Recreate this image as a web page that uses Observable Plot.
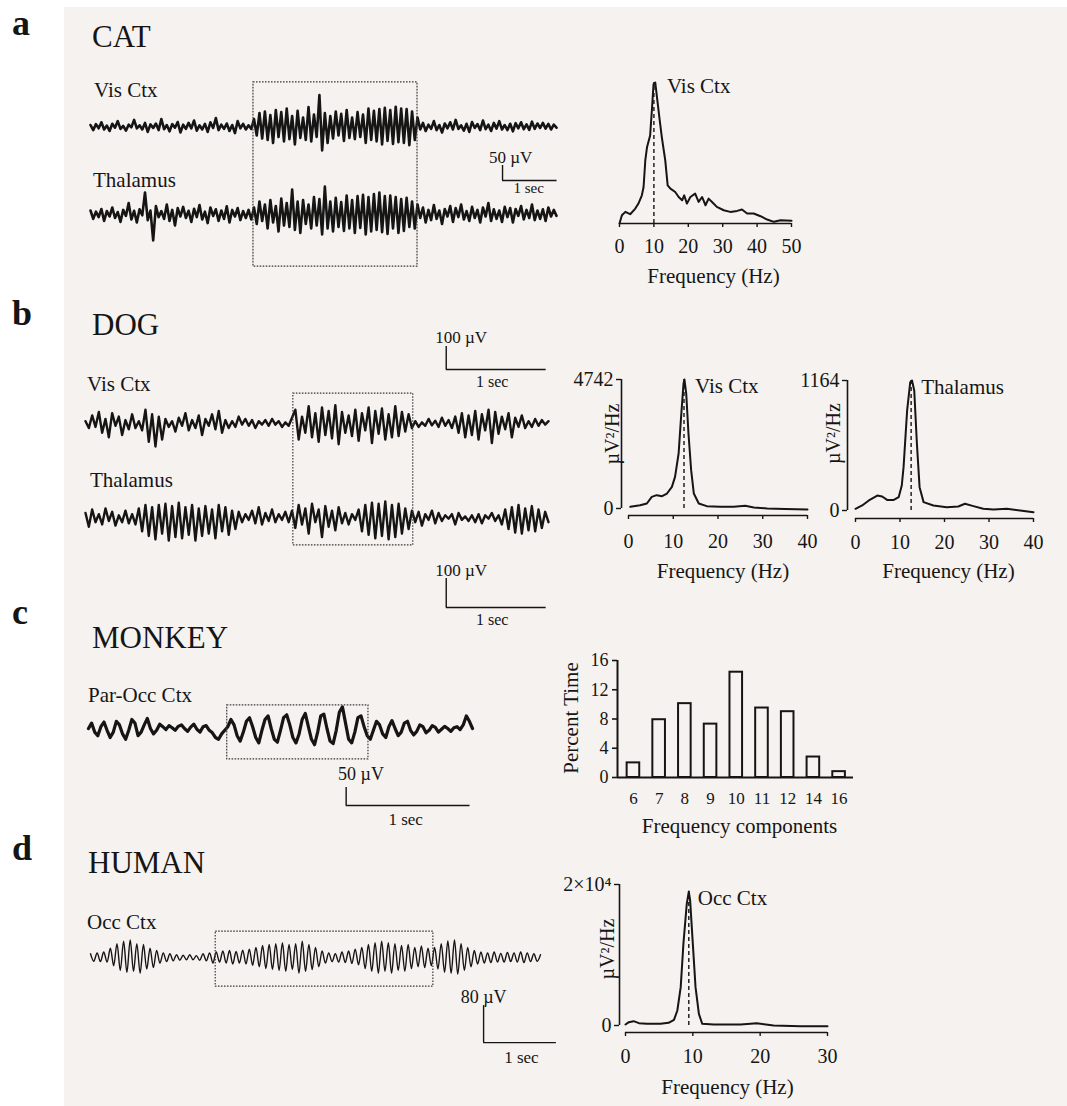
<!DOCTYPE html>
<html><head><meta charset="utf-8">
<script src="https://cdn.jsdelivr.net/npm/d3@7"></script>
<script src="https://cdn.jsdelivr.net/npm/@observablehq/plot@0.6"></script>
<style>
html,body{margin:0;padding:0;background:#fff;}
#page{position:relative;width:1067px;height:1106px;overflow:hidden;background:#fff;font-family:'Liberation Serif','Times New Roman',Times,serif;color:#151515;}
#paper{position:absolute;left:64px;top:7px;right:0;bottom:0;background:#f6f2ef;}
.lbl{position:absolute;white-space:nowrap;line-height:1;}
</style></head><body><div id="page"><div id="paper"></div></div>
<script>
// ---------------- DATA ----------------
// EEG traces (µV, positive up)
const catVis = [
  5,-12,8,-6,14,-10,3,-15,9,-4, 18,-8,2,-14,6,-3,22,-6,4,-10, 12,-18,7,-5,10,-12,25,-9,5,-16, 8,-4,15,-20,6,-8,12,-6,20,-14, 4,-10,9,-18,14,-5,28,-12,6,-8, 10,-15,5,-22,18,-6,9,-10,4,-8,
  25,-30,45,-40,50,-45,38,-55,55,-35, 48,-50,60,-42,35,-60,52,-38,30,-45, 65,-50,40,-35,105,-80,45,-55,35,-40, 50,-30,42,-48,55,-38,30,-42,48,-35, 40,-55,60,-45,52,-50,58,-60,62,-48, 55,-58,66,-52,60,-55,58,-62,50,-45, 30,
  -10,12,-15,6,-8,18,-12,5,-20,10, -6,14,-10,22,-8,4,-14,9,-18,15, -5,8,-12,20,-9,6,-15,12,-7,18, -10,5,-12,9,-16,11,-6,14,-9,7, -11,16,-8,10,-5,12,-7,9,-10,6, -4
];
const catThal = [
  10,-18,6,-12,15,-25,8,-10,20,-15, 5,-28,12,-8,35,-20,9,-30,14,-6, 70,-22,10,-90,25,-12,8,-18,30,-25, 12,-40,18,-10,22,-15,9,-28,16,-12, 28,-20,6,-32,20,-8,14,-25,10,-18, 24,-30,12,-10,18,-22,8,-15,12,-20,
  20,-35,40,-25,30,-50,45,-30,25,-60, 50,-40,35,-45,80,-55,40,-65,45,-35, 30,-50,55,-40,48,-70,90,-50,40,-60, 52,-45,38,-58,60,-50,45,-65,58,-48, 62,-70,55,-60,65,-55,70,-62,58,-68, 60,-50,55,-65,48,-58,52,-45,40,-50, 30,
  -15,20,-30,12,-22,28,-18,10,-35,15, -10,25,-28,18,-12,30,-20,8,-25,22, -15,12,-30,20,-10,35,-25,14,-18,10, -28,22,-12,18,-30,15,-8,25,-20,12, -15,30,-22,10,-18,14,-25,20,-10,12, -8
];
const dogVis = [
  10,-20,35,-15,50,-40,20,-60,45,-10, 30,-50,15,-25,40,-20,10,-30,60,-80, 40,-100,30,-70,20,-15,10,-35,25,-10, 45,-30,15,-20,35,-50,20,-10,40,-25, 55,-40,15,-20,10,-15,30,-5,20,-10, 15,-20,10,-5,15,-10,20,-5,10,-15, 5,-10,25,
  60,-70,30,-40,75,-60,45,-80,70,-50, 55,-65,80,-90,50,-40,35,-55,60,-75, 45,-30,70,-85,55,-45,65,-70,40,-60, 75,-55,50,-35,40,-20,
  10,-15,5,-10,20,-8,12,-15,25,-10, 15,-20,30,-40,45,-60,35,-50,55,-70, 40,-30,60,-85,50,-45,30,-25,45,-60, 25,-15,35,-20,10,-15,20,-10,15,-5, 10
];
const dogThal = [
  20,-40,35,-20,15,-30,40,-15,25,-35, 10,-20,30,-25,15,-30,40,-60,55,-80, 45,-95,55,-70,60,-100,50,-85,65,-90, 45,-75,55,-100,40,-80,50,-70,35,-90, 55,-60,45,-75,30,-50,25,-20,15,-10, 30,-25,45,-30,20,-15,35,-20,15,-10, 25,-20,30,
  -45,55,-30,40,-70,60,-20,35,-85,50, -40,30,-55,45,-25,20,-30,15,-10,35, -60,55,-75,65,-90,60,-80,70,-95,55, -85,60,-70,40,-50,30,
  -20,25,-35,15,-10,30,-25,20,-15,10, -5,15,-30,20,-10,5,-15,10,-20,15, -25,10,-5,20,-15,10,-30,35,-50,45, -65,55,-70,40,-55,50,-60,35,-45,25, -20
];
const monkeyParOcc = [
  0,15,-10,-20,5,18,-5,-25,-10,20, 10,-15,-30,-5,25,15,-20,-10,10,28, 0,-15,-5,12,5,-3,8,2,-5,6, 10,0,-8,4,12,-2,-10,5,8,-5, -12,-25,-30,-15,-5,
  5,25,10,-20,-35,-10,20,30,5,-25, -40,-5,25,35,0,-30,-38,-5,30,38, 10,-25,-40,-15,25,42,5,-30,-45,-10, 35,40,0,-35,-42,-5,45,60,15,-30, -40,-10,30,35,5,-20,
  -30,-5,20,10,-15,-25,5,22,0,-20, -10,15,20,-5,-18,-8,10,5,-12,-5, 8,3,-10,-2,6,0,-8,2,5,-3, 10,35,20,0
];
const humanOcc = [
  8,-8,10,-9,12,-10,20,-18,30,-28, 35,-32,38,-30,30,-34,28,-25,20,-22, 15,-12,10,-9,8,-7,6,-6,5,-5, 6,-5,4,-6,8,-7,10,-12,
  12,-10,14,-12,15,-14,13,-12,16,-14, 18,-17,22,-20,26,-24,28,-26,30,-28, 32,-30,28,-26,30,-34,35,-30,28,-26, 22,-20,14,-12,10,-9,8,-10,12,-11, 14,-13,18,-16,22,-24,28,-30,32,-34, 35,-30,32,-34,30,-28,26,-30,28,-24, 22,-20,25,-22,20,-18,
  22,-25,30,-32,36,-34,38,-36,30,-28, 22,-20,15,-14,12,-12,10,-11,12,-10, 9,-10,11,-9,10,-10,12,-11,10,-9, 8,-8,6
];
// sampling rates (samples per second) of the traces above
const catRate = 20, dogRate = 30, monkeyRate = 40, humanRate = 22;

// analysed epochs (dotted boxes) in seconds / µV
const catBox = {t1: 2.99, t2: 6.0, v1: 147, v2: -467};
const dogBox = {t1: 2.08, t2: 3.28, v1: 130, v2: -530};
const monkeyBox = {t1: 1.12, t2: 2.26, v1: 64, v2: -86};
const humanBox = {t1: 1.72, t2: 4.71, v1: 56, v2: -63};

// calibration bars
const catBars = [{t: 7.56, v: -180, dt: 1, dv: 50, vText: "50 µV", tText: "1 sec", vAt: [7.71, -120], tAt: [8.04, -223]}];
const dogBars = [
  {t: 3.61, v: 235, dt: 1, dv: 100, vText: "100 µV", tText: "1 sec", vAt: [3.76, 348], tAt: [4.07, 157]},
  {t: 3.61, v: -800, dt: 1, dv: 126, vText: "100 µV", tText: "1 sec", vAt: [3.76, -661], tAt: [4.07, -874]}
];
const monkeyBars = [{t: 2.08, v: -214, dt: 1, dv: 50, vText: "50 µV", tText: "1 sec", vAt: [2.2, -144], tAt: [2.56, -267]}];
const humanBars = [{t: 5.4, v: -184, dt: 1, dv: 80, vText: "80 µV", tText: "1 sec", vAt: [5.4, -99], tAt: [5.92, -229]}];

// power spectra
const catSpecFreq = [0,0.7,1.7,3.1,4.6,5.5,6.5,7.0,7.5,8.0, 8.9,9.4,9.9,10.4,10.9,11.7,12.3,13.3,14.0,14.8, 16.2,17.2,18.2,18.8,19.6,20.6,22.0,23.0,24.0,25.0, 25.9,26.9,28.3,30.3,32.2,34.2,35.6,37.1,39.0,41.0, 42.9,44.9,46.8,50];
const catSpecPow  = [0,25,35,28,45,60,85,110,190,230, 265,340,420,425,380,310,260,190,115,105, 95,80,70,85,60,80,90,65,80,55, 75,65,50,40,35,38,42,30,30,22, 12,5,10,8];
const catPeak = {f: 10, v: 425};

const dogVisFreq = [0.4,2.6,4.1,5.2,6.3,7.5,8.6,9.7,10.4,11.2, 11.7,12.3,12.5,12.9,13.4,14.0,14.6,15.7,17.5,20.5, 23.5,26.1,28,31,35,40];
const dogVisPow  = [61,122,184,429,490,453,551,796,1164,2022, 3247,4600,4742,4227,2757,1409,551,184,86,61, 61,98,37,0,-20,-40];
const dogVisPeak = {f: 12.4, v: 4742};

const dogThalFreq = [0,1.5,3,4.9,6,7.1,8.6,9.7,10.4,10.8, 11.6,12.3,12.7,13.2,13.8,14.4,15.3,17.5,20.5,23.1, 24.6,26.5,28.7,31,34,37,40];
const dogThalPow  = [15,45,90,134,125,95,95,119,224,388, 895,1149,1164,1075,597,209,75,45,30,36, 60,39,15,9,15,0,-15];
const dogThalPeak = {f: 12.5, v: 1164};

const humanSpecFreq = [0,0.5,1.2,2,3.2,5.2,6.4,7.2,7.7,8.2, 8.6,9.1,9.4,9.6,10,10.4,10.9,11.4,13.1,17.1, 19.5,22,26,30];
const humanSpecPow  = [140,470,615,330,236,236,380,800,2130,5440, 11580,17260,19000,17730,11580,5440,1650,236,140,140, 330,0,-95,-95];
const humanPeak = {f: 9.4, v: 19000};

// monkey frequency histogram
const monkeyFreqCats = ["6","7","8","9","10","11","12","14","16"];
const monkeyPercent  = [2.0, 7.9, 10.1, 7.3, 14.4, 9.5, 9.0, 2.8, 0.8];

// ---------------- DRAWING ----------------
const FONT = "'Liberation Serif','Times New Roman',Times,serif";
const INK = "#151515";
const page = document.getElementById("page");
const W = 1067, H = 1106;

function addLabel(text, x, baseline, size, weight) {
  const d = document.createElement("div");
  d.className = "lbl";
  d.textContent = text;
  d.style.left = x + "px";
  d.style.top = (baseline - 0.8375 * size) + "px";
  d.style.fontSize = size + "px";
  if (weight) d.style.fontWeight = weight;
  page.appendChild(d);
}

function addPlot(options, fontSize) {
  const svg = Plot.plot({
    width: W, height: H,
    marginTop: 0, marginRight: 0, marginBottom: 0, marginLeft: 0,
    ...options,
    style: {background: "none", fontFamily: FONT, fontSize: fontSize + "px", color: INK, overflow: "visible", position: "absolute", left: "0px", top: "0px"}
  });
  svg.style.position = "absolute";
  svg.style.left = "0px";
  svg.style.top = "0px";
  page.appendChild(svg);
}

function tracePanel({traces, rate, x0, x1, center, gain, box, bars, strokeWidth, curve, vSize, tSize}) {
  const n = traces[0].values.length;
  const dur = (n - 1) / rate;
  const marks = traces.map(tr => Plot.line(tr.values, {
    x: (d, i) => i / rate, y: d => d + tr.offset,
    stroke: INK, strokeWidth, curve: curve || "linear", strokeLinejoin: "round"
  }));
  marks.push(Plot.rect([box], {x1: "t1", x2: "t2", y1: "v1", y2: "v2", fill: "none", stroke: "#3a3a3a", strokeWidth: 1.2, strokeDasharray: "1.6,1.4"}));
  for (const b of bars) {
    marks.push(Plot.ruleX([b], {x: "t", y1: "v", y2: d => d.v + d.dv, stroke: INK, strokeWidth: 1.4}));
    marks.push(Plot.ruleY([b], {y: "v", x1: "t", x2: d => d.t + d.dt, stroke: INK, strokeWidth: 1.4}));
    marks.push(Plot.text([b], {x: d => d.vAt[0], y: d => d.vAt[1], text: "vText", textAnchor: "middle", lineAnchor: "bottom", fontSize: vSize, fill: INK}));
    marks.push(Plot.text([b], {x: d => d.tAt[0], y: d => d.tAt[1], text: "tText", textAnchor: "middle", lineAnchor: "bottom", fontSize: tSize, fill: INK}));
  }
  addPlot({
    x: {domain: [0, dur], range: [x0, x1], axis: null},
    y: {domain: [0, 100], range: [center, center - 100 * gain], axis: null},
    marks
  }, 16);
}

// a: CAT traces (0.3 px per µV)
tracePanel({traces: [{values: catVis, offset: 0}, {values: catThal, offset: -290}],
  rate: catRate, x0: 90, x1: 556, center: 126, gain: 0.3, box: catBox, bars: catBars, strokeWidth: 2.6, vSize: 17, tSize: 15});
// b: DOG traces
tracePanel({traces: [{values: dogVis, offset: 0}, {values: dogThal, offset: -409}],
  rate: dogRate, x0: 85, x1: 548, center: 423, gain: 0.23, box: dogBox, bars: dogBars, strokeWidth: 2.4, vSize: 17, tSize: 16});
// c: MONKEY trace
tracePanel({traces: [{values: monkeyParOcc, offset: 0}],
  rate: monkeyRate, x0: 88, x1: 472, center: 728, gain: 0.36, box: monkeyBox, bars: monkeyBars, strokeWidth: 3.2, curve: "linear", vSize: 18, tSize: 17});
// d: HUMAN trace
tracePanel({traces: [{values: humanOcc, offset: 0}],
  rate: humanRate, x0: 90, x1: 540, center: 957, gain: 0.4625, box: humanBox, bars: humanBars, strokeWidth: 1.4, curve: "catmull-rom", vSize: 18, tSize: 17});

// spectrum helper
function spectrum({freq, pow, peak, peakLabel, left, right, top, bottom, xMax, yMax, xTicks, yAxis, yTickFormat, axisGap, tickPad, peakDx, peakDy, yTitleDx, yTitleDy, titleDx, titleDy}) {
  const data = freq.map((f, i) => ({f, v: pow[i]}));
  const marks = [
    Plot.ruleY([0], {dy: axisGap, stroke: INK, strokeWidth: 1.6}),
    Plot.axisX({ticks: xTicks, tickSize: 4, tickPadding: tickPad, dy: axisGap, label: null, stroke: INK, strokeWidth: 1.4}),
    Plot.line(data, {x: "f", y: "v", stroke: INK, strokeWidth: 2, curve: "linear"}),
    Plot.ruleX([peak], {x: "f", y1: 0, y2: "v", stroke: INK, strokeWidth: 1.4, strokeDasharray: "4,3"}),
    Plot.text([peak], {x: "f", y: "v", text: () => peakLabel, textAnchor: "start", lineAnchor: "bottom", dx: peakDx, dy: peakDy, fontSize: 21, fill: INK}),
    Plot.text(["Frequency (Hz)"], {frameAnchor: "bottom", textAnchor: "middle", lineAnchor: "bottom", dx: titleDx, dy: titleDy, fontSize: 21, fill: INK})
  ];
  if (yAxis) {
    marks.push(
      Plot.ruleX([0], {y1: 0, y2: yMax, dx: -yAxis, stroke: INK, strokeWidth: 1.6}),
      Plot.axisY({ticks: [0, yMax], tickSize: 5, tickPadding: 3, dx: -yAxis, label: null, tickFormat: yTickFormat, strokeWidth: 1.4}),
      Plot.text(["µV²/Hz"], {frameAnchor: "left", textAnchor: "middle", lineAnchor: "middle", rotate: -90, dx: yTitleDx, dy: yTitleDy, fontSize: 20, fill: INK})
    );
  }
  addPlot({
    marginLeft: left, marginRight: W - right, marginTop: top, marginBottom: H - bottom,
    x: {domain: [0, xMax]},
    y: {domain: [0, yMax], axis: null},
    marks
  }, 20);
}

spectrum({freq: catSpecFreq, pow: catSpecPow, peak: catPeak, peakLabel: "Vis Ctx",
  left: 619, right: 791, top: 82, bottom: 223, xMax: 50, yMax: 425, xTicks: [0,10,20,30,40,50],
  yAxis: 0, axisGap: 0, tickPad: 11, peakDx: 13, peakDy: 10, titleDx: 8, titleDy: 59});
spectrum({freq: dogVisFreq, pow: dogVisPow, peak: dogVisPeak, peakLabel: "Vis Ctx",
  left: 628, right: 807, top: 379, bottom: 508, xMax: 40, yMax: 4742, xTicks: [0,10,20,30,40],
  yAxis: 7, yTickFormat: d => `${d}`, axisGap: 7, tickPad: 14, peakDx: 11, peakDy: 13,
  yTitleDx: -16, yTitleDy: -10, titleDx: 5, titleDy: 69});
spectrum({freq: dogThalFreq, pow: dogThalPow, peak: dogThalPeak, peakLabel: "Thalamus",
  left: 855, right: 1033, top: 380, bottom: 510, xMax: 40, yMax: 1164, xTicks: [0,10,20,30,40],
  yAxis: 8, yTickFormat: d => `${d}`, axisGap: 8, tickPad: 12, peakDx: 10, peakDy: 13,
  yTitleDx: -22, yTitleDy: -12, titleDx: 4, titleDy: 67});
spectrum({freq: humanSpecFreq, pow: humanSpecPow, peak: humanPeak, peakLabel: "Occ Ctx",
  left: 625, right: 827, top: 884, bottom: 1025, xMax: 30, yMax: 20000, xTicks: [0,10,20,30],
  yAxis: 6, yTickFormat: d => d ? "2×10⁴" : "0", axisGap: 7, tickPad: 12, peakDx: 9, peakDy: 13,
  yTitleDx: -18, yTitleDy: -6, titleDx: 1, titleDy: 68});

// c: histogram of frequency components
{
  const n = monkeyFreqCats.length;
  const xDom = [-0.62, n - 0.44];
  const bars = monkeyPercent.map((p, i) => ({i, p}));
  addPlot({
    marginLeft: 617, marginRight: W - 853, marginTop: 660, marginBottom: H - 777,
    x: {domain: xDom},
    y: {domain: [0, 16]},
    marks: [
      Plot.rect(bars, {x1: d => d.i - 0.245, x2: d => d.i + 0.245, y1: 0, y2: "p", fill: "none", stroke: INK, strokeWidth: 2}),
      Plot.ruleY([0], {stroke: INK, strokeWidth: 2}),
      Plot.ruleX([xDom[0]], {y1: 0, y2: 16, stroke: INK, strokeWidth: 2}),
      Plot.axisY({ticks: [0,4,8,12,16], tickSize: 5, tickPadding: 4, label: null, strokeWidth: 1.6}),
      Plot.axisX({ticks: d3.range(n), tickFormat: i => monkeyFreqCats[i], tickSize: 0, tickPadding: 14, label: null, fontSize: 17}),
      Plot.text(["Percent Time"], {frameAnchor: "left", textAnchor: "middle", lineAnchor: "middle", rotate: -90, dx: -46, dy: -1, fontSize: 21, fill: INK}),
      Plot.text(["Frequency components"], {frameAnchor: "bottom", textAnchor: "middle", lineAnchor: "bottom", dx: 4, dy: 55, fontSize: 21, fill: INK})
    ]
  }, 18);
}

// panel letters, species and trace labels
addLabel("a", 12, 35, 36, "bold");
addLabel("b", 12, 325, 36, "bold");
addLabel("c", 12, 624, 36, "bold");
addLabel("d", 12, 860, 36, "bold");
addLabel("CAT", 92, 47, 31);
addLabel("DOG", 92, 335, 31);
addLabel("MONKEY", 92, 648, 31);
addLabel("HUMAN", 88, 873, 31);
addLabel("Vis Ctx", 94, 98, 21);
addLabel("Thalamus", 93, 188, 21);
addLabel("Vis Ctx", 87, 392, 21);
addLabel("Thalamus", 90, 488, 21);
addLabel("Par-Occ Ctx", 88, 703, 21);
addLabel("Occ Ctx", 87, 930, 21);
</script></body></html>
